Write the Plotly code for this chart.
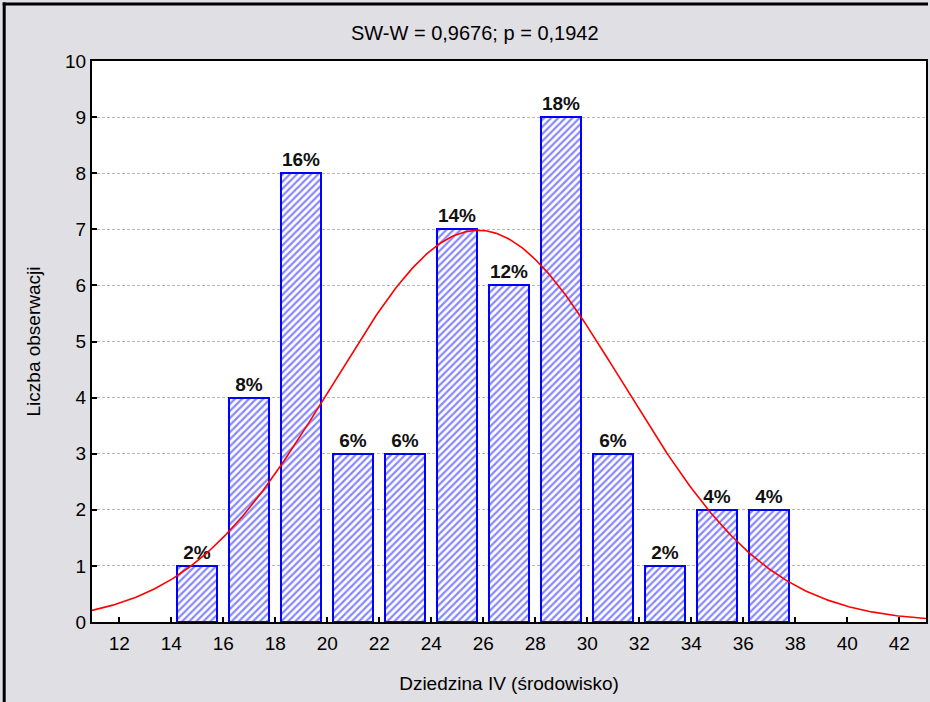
import numpy as np
import plotly.graph_objects as go

bin_centers = [15, 17, 19, 21, 23, 25, 27, 29, 31, 33, 35, 37]
counts = [1, 4, 8, 3, 3, 7, 6, 9, 3, 1, 2, 2]
pct_labels = ["2%", "8%", "16%", "6%", "6%", "14%", "12%", "18%", "6%", "2%", "4%", "4%"]
x_ticks = list(range(12, 44, 2))
y_ticks = list(range(0, 11))

fit_mean = 25.8
fit_sd = 5.6
bin_width = 2
n_obs = sum(counts)

W, H = 930, 702
L, R, T, B = 92, 2, 61, 80
pw, ph = W - L - R, H - T - B

def px_x(p):
    return (p - L) / pw

def px_y(p):
    return (H - B - p) / ph

xs = np.linspace(10.95, 43.03, 400)
ys = n_obs * bin_width / (fit_sd * np.sqrt(2 * np.pi)) * np.exp(-0.5 * ((xs - fit_mean) / fit_sd) ** 2)

FONT = "Liberation Sans, Arial, sans-serif"

fig = go.Figure()
fig.add_trace(go.Bar(
    x=bin_centers, y=counts, width=1.55,
    text=pct_labels, textposition="outside", cliponaxis=False,
    textfont=dict(family=FONT, size=19, color="#111111", weight="bold"),
    marker=dict(color="white", line=dict(color="#0000ff", width=2),
                pattern=dict(shape="/", fgcolor="#1010ff", bgcolor="white", size=5, solidity=0.45)),
    showlegend=False,
))
fig.add_trace(go.Scatter(x=xs, y=ys, mode="lines", line=dict(color="#ff0000", width=1.6),
                         showlegend=False, hoverinfo="skip"))

fig.update_layout(
    width=W, height=H,
    margin=dict(l=L, r=R, t=T, b=B),
    paper_bgcolor="#e0dfe3", plot_bgcolor="white",
    font=dict(family=FONT, size=19, color="black"),
    bargap=0,
)
fig.update_xaxes(range=[10.95, 43.03], tickvals=x_ticks, ticks="inside", ticklen=5, tickwidth=1.5,
                 tickcolor="black", showgrid=False, showline=True, linecolor="black", linewidth=2,
                 mirror=True, zeroline=False, tickfont=dict(size=19), ticklabelstandoff=3,
                 title=dict(text="Dziedzina IV (środowisko)", standoff=24, font=dict(size=19)))
fig.update_yaxes(range=[0, 10], tickvals=y_ticks, ticks="inside", ticklen=5, tickwidth=1.5,
                 tickcolor="black", showgrid=True, gridcolor="#b8b8b8", griddash="3px,2px", gridwidth=1,
                 showline=True, linecolor="black", linewidth=2, mirror=True, zeroline=False,
                 tickfont=dict(size=19),
                 title=dict(text="Liczba obserwacji", standoff=19, font=dict(size=19)))

fig.add_annotation(text="SW-W = 0,9676; p = 0,1942", xref="paper", yref="paper",
                   x=px_x(476), y=px_y(33), showarrow=False, font=dict(size=20),
                   xanchor="center", yanchor="middle")

# outer frame (left and top)
fig.add_shape(type="line", xref="paper", yref="paper", x0=px_x(4), x1=px_x(4),
              y0=px_y(2.5), y1=px_y(H), line=dict(color="black", width=3), layer="above")
fig.add_shape(type="line", xref="paper", yref="paper", x0=px_x(2.5), x1=px_x(W),
              y0=px_y(4), y1=px_y(4), line=dict(color="black", width=3), layer="above")

fig.write_html("out.html", config={"displayModeBar": False},
               post_script="document.body.style.margin='0';document.body.style.overflow='hidden';")
